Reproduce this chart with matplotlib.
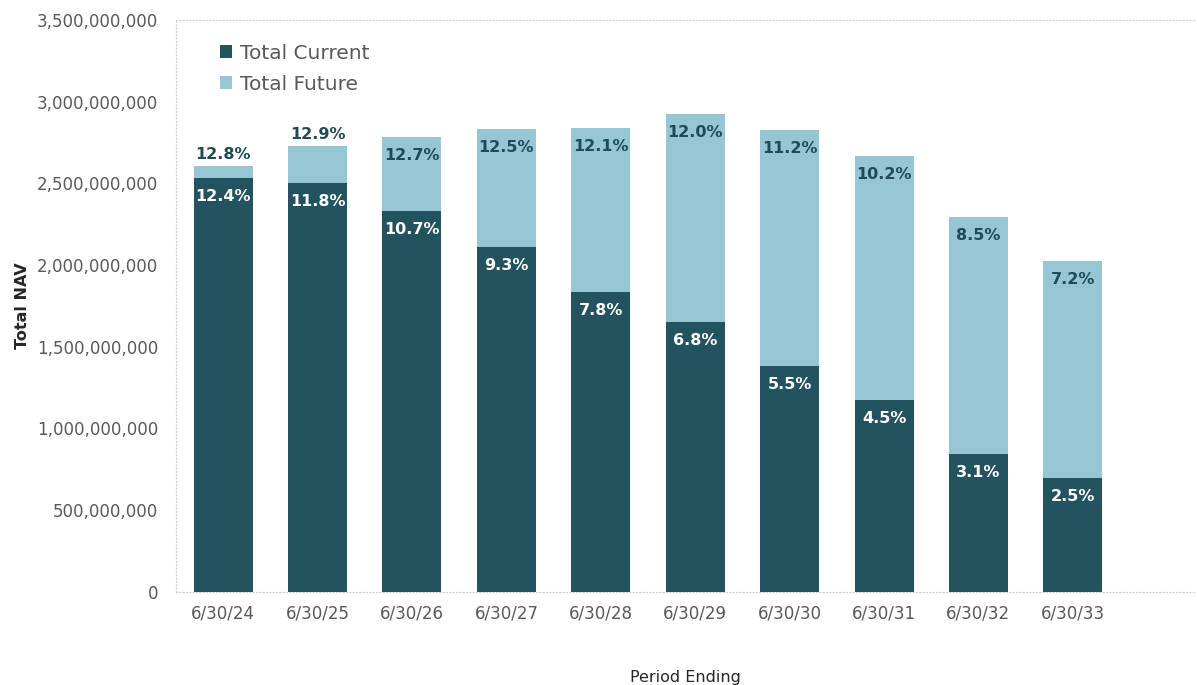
import matplotlib
matplotlib.use('Agg')
import matplotlib.pyplot as plt
from matplotlib.ticker import FuncFormatter

# Data
periods = ['6/30/24', '6/30/25', '6/30/26', '6/30/27', '6/30/28',
           '6/30/29', '6/30/30', '6/30/31', '6/30/32', '6/30/33']
total_current = [2533e6, 2503e6, 2331e6, 2111e6, 1836e6,
                 1652e6, 1383e6, 1175e6, 844e6, 698e6]
total_nav = [2607e6, 2729e6, 2784e6, 2833e6, 2839e6,
             2925e6, 2827e6, 2668e6, 2295e6, 2025e6]
total_future = [t - c for t, c in zip(total_nav, total_current)]
current_pct = ['12.4%', '11.8%', '10.7%', '9.3%', '7.8%',
               '6.8%', '5.5%', '4.5%', '3.1%', '2.5%']
future_pct = ['12.8%', '12.9%', '12.7%', '12.5%', '12.1%',
              '12.0%', '11.2%', '10.2%', '8.5%', '7.2%']

DARK = '#245360'
LIGHT = '#96C5D4'
GREY = '#595959'

plt.rcParams['font.family'] = ['DejaVu Sans']

fig = plt.figure(figsize=(11.97, 6.85), dpi=100)
ax = fig.add_axes([0.147, 0.136, 0.851, 0.835])

x = list(range(len(periods)))
width = 0.625
ax.bar(x, total_current, width, color=DARK, label='Total Current', zorder=3)
ax.bar(x, total_future, width, bottom=total_current, color=LIGHT,
       label='Total Future', zorder=3)

# value labels
off = 115e6
for i in x:
    ax.text(i, total_current[i] - off, current_pct[i], ha='center', va='center',
            color='white', fontsize=11.5, fontweight='semibold', zorder=4)
    if total_future[i] < 2 * off:
        yy = total_nav[i] + 70e6
    else:
        yy = total_nav[i] - off
    ax.text(i, yy, future_pct[i], ha='center', va='center',
            color='#1F4A56', fontsize=11.5, fontweight='semibold', zorder=4)

ax.set_xlim(-0.5, 10.29)
ax.set_ylim(0, 3.5e9)
ax.set_yticks([i * 5e8 for i in range(8)])
ax.yaxis.set_major_formatter(FuncFormatter(lambda v, p: f'{v:,.0f}'))
ax.set_xticks(x)
ax.set_xticklabels(periods)
ax.tick_params(axis='both', length=0, labelsize=12, labelcolor=GREY)
ax.tick_params(axis='x', pad=9)
ax.tick_params(axis='y', pad=13)

for side in ['top', 'left', 'bottom']:
    ax.spines[side].set_color('#D0D0D0')
    ax.spines[side].set_linestyle((0, (1, 2)))
    ax.spines[side].set_linewidth(0.8)
ax.spines['right'].set_visible(False)

ax.set_ylabel('Total NAV', fontsize=11.5, fontweight='semibold',
              color='#262626', labelpad=5)
ax.set_xlabel('Period Ending', fontsize=11.5, color='#262626', labelpad=34)

ax.legend(loc='upper left', bbox_to_anchor=(0.025, 0.99), frameon=False,
          fontsize=14.5, labelcolor=GREY, handlelength=0.6, handleheight=0.6,
          handletextpad=0.4, labelspacing=0.6)

fig.savefig('out.png', dpi=100)
